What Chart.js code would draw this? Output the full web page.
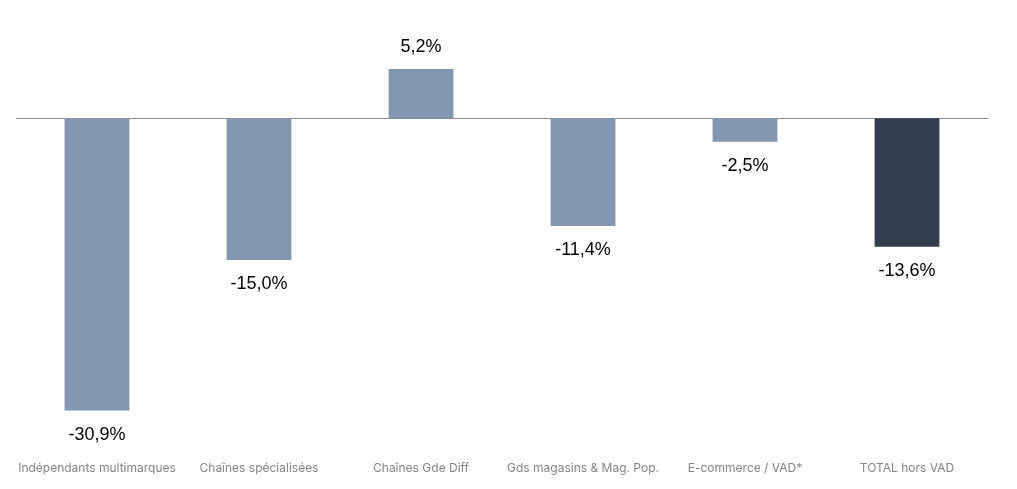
<!DOCTYPE html>
<html>
<head>
<meta charset="utf-8">
<script src="https://cdn.jsdelivr.net/npm/chart.js@4/dist/chart.umd.min.js"></script>
<style>
  html, body { margin: 0; padding: 0; background: #fff; }
  #wrap { width: 1017px; height: 489px; position: relative; }
</style>
</head>
<body>
<div id="wrap"><canvas id="chart"></canvas></div>
<script>
const categories = ['Indépendants multimarques', 'Chaînes spécialisées', 'Chaînes Gde Diff', 'Gds magasins & Mag. Pop.', 'E-commerce / VAD*', 'TOTAL hors VAD'];
const evolution = [-30.9, -15.0, 5.2, -11.4, -2.5, -13.6];
const barColors = ['#8497B0', '#8497B0', '#8497B0', '#8497B0', '#8497B0', '#333F50'];

// zero line + value labels, drawn from the chart's own scales
const valueLabels = {
  id: 'valueLabels',
  beforeDatasetsDraw(chart) {
    const { ctx, chartArea, scales } = chart;
    const y0 = Math.round(scales.y.getPixelForValue(0)) + 0.5;
    ctx.save();
    ctx.strokeStyle = '#8c8c8c';
    ctx.lineWidth = 1;
    ctx.beginPath();
    ctx.moveTo(chartArea.left, y0);
    ctx.lineTo(chartArea.right, y0);
    ctx.stroke();
    ctx.restore();
  },
  afterDatasetsDraw(chart) {
    const { ctx } = chart;
    const meta = chart.getDatasetMeta(0);
    ctx.save();
    ctx.font = '18px "Liberation Sans", Arial, sans-serif';
    ctx.fillStyle = '#000';
    ctx.textAlign = 'center';
    ctx.textBaseline = 'middle';
    meta.data.forEach((bar, i) => {
      const v = evolution[i];
      const txt = v.toFixed(1).replace('.', ',') + '%';
      const y = v >= 0 ? bar.y - 22 : bar.y + 24;
      ctx.fillText(txt, bar.x, y);
    });
    ctx.restore();
  }
};

new Chart(document.getElementById('chart'), {
  type: 'bar',
  data: {
    labels: categories,
    datasets: [{
      data: evolution,
      backgroundColor: barColors,
      borderWidth: 0,
      barPercentage: 0.5,
      categoryPercentage: 0.8
    }]
  },
  options: {
    responsive: true,
    maintainAspectRatio: false,
    animation: false,
    layout: { padding: { left: 16, right: 29, top: 0, bottom: 10 } },
    plugins: {
      legend: { display: false },
      tooltip: { enabled: false }
    },
    scales: {
      x: {
        grid: { display: false },
        border: { display: false },
        ticks: {
          color: '#858585',
          padding: 3,
          maxRotation: 0,
          autoSkip: false,
          font: { family: 'Inter, Roboto, sans-serif', size: 12 }
        }
      },
      y: {
        display: false,
        min: -35.13,
        max: 12.49
      }
    }
  },
  plugins: [valueLabels]
});
</script>
</body>
</html>
